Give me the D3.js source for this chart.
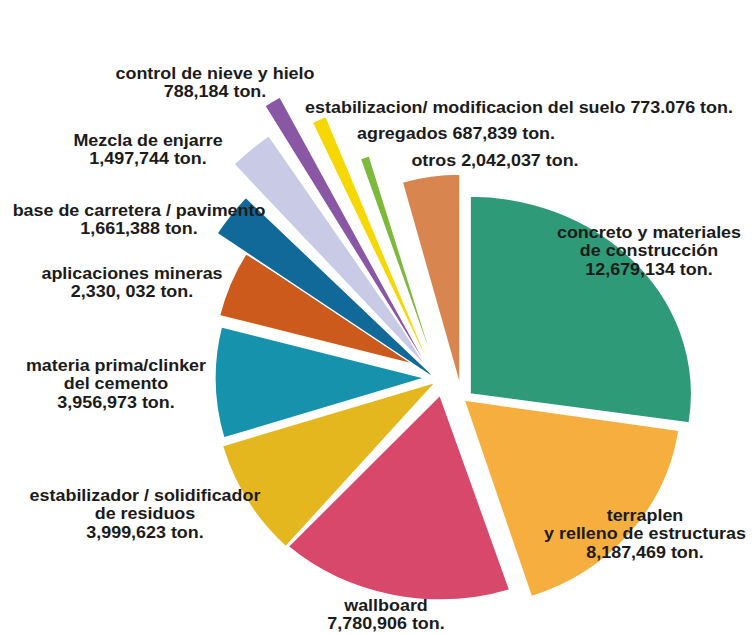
<!DOCTYPE html>
<html><head><meta charset="utf-8">
<script src="https://cdn.jsdelivr.net/npm/d3@7"></script>
<style>body{margin:0;background:#fff}svg{display:block}</style>
</head><body>
<svg id="chart" width="756" height="635"></svg>
<script>
// ---- data ----
const categories = [
  "concreto y materiales de construcción",
  "terraplen y relleno de estructuras",
  "wallboard",
  "estabilizador / solidificador de residuos",
  "materia prima/clinker del cemento",
  "aplicaciones mineras",
  "base de carretera / pavimento",
  "Mezcla de enjarre",
  "control de nieve y hielo",
  "estabilizacion/ modificacion del suelo",
  "agregados",
  "otros"
];
const values = [12679134, 8187469, 7780906, 3999623, 3956973, 2330032, 1661388, 1497744, 788184, 773076, 687839, 2042037];
const valueLabels = ["12,679,134 ton.", "8,187,469 ton.", "7,780,906 ton.", "3,999,623 ton.", "3,956,973 ton.", "2,330, 032 ton.", "1,661,388 ton.", "1,497,744 ton.", "788,184 ton.", "773.076 ton.", "687,839 ton.", "2,042,037 ton."];
const labelLines = [
  ["concreto y materiales", "de construcción"],
  ["terraplen", "y relleno de estructuras"],
  ["wallboard"],
  ["estabilizador / solidificador", "de residuos"],
  ["materia prima/clinker", "del cemento"],
  ["aplicaciones mineras"],
  ["base de carretera / pavimento"],
  ["Mezcla de enjarre"],
  ["control de nieve y hielo"],
  ["estabilizacion/ modificacion del suelo"],
  ["agregados"],
  ["otros"]
];
const valueInline = [false, false, false, false, false, false, false, false, false, true, true, true];

// ---- style / layout ----
const colors = ["#2f9a78", "#f6ae3f", "#d8486a", "#e5b71f", "#1692ad", "#cd5a1d", "#11699a", "#c9cbe6", "#8a57a4", "#f6d700", "#7db93b", "#d9854f"];
const pieCenter = [440, 382];
const sliceOffset = [[30, 12], [24, 18], [0, 13], [-4, 0], [-15, -4], [-12, -14], [0, 0], [0, 0], [-4, 0], [-3, 0], [0, 0], [20, 4]];
const sliceRadius = [198, 207, 205, 223, 210, 215, 268, 300, 325, 288, 237, 212];
const sliceStretchX = [1.12, 1.05, 1.1, 1, 1, 1, 1, 1, 1, 1, 1, 1];
const slicePadDeg = [0, 0, 0, 0, 0, 0, 3, 3, 3, 3, 3, 0];
const labelPos = [[649, 238], [645, 521], [386, 611], [145, 501], [116, 371], [132, 279], [139, 216], [148, 146], [215, 79], [519, 113], [456, 139], [495, 166]];
const fontSize = 16;
const textStretchX = 1.12;
const lineH = 18.4;

const svg = d3.select("#chart");
const pie = d3.pie().sort(null).value(d => d);
const arcs = pie(values);
const rad = Math.PI / 180;

const g = svg.append("g");
g.selectAll("path")
  .data(arcs)
  .join("path")
  .attr("transform", (d, i) => `translate(${pieCenter[0] + sliceOffset[i][0]},${pieCenter[1] + sliceOffset[i][1]}) scale(${sliceStretchX[i]},1)`)
  .attr("d", (d, i) => d3.arc()
      .innerRadius(0)
      .outerRadius(sliceRadius[i])
      .startAngle(d.startAngle + slicePadDeg[i] * rad / 2)
      .endAngle(d.endAngle - slicePadDeg[i] * rad / 2)())
  .attr("fill", (d, i) => colors[i])
  .attr("stroke", "#fff")
  .attr("stroke-width", 1.5)
  .attr("stroke-linejoin", "round");

const lg = svg.append("g")
  .attr("font-family", "'Liberation Sans', Arial, sans-serif")
  .attr("font-weight", "bold")
  .attr("font-size", fontSize)
  .attr("fill", "#1b1b1b")
  .attr("text-anchor", "middle");

categories.forEach((c, i) => {
  const lines = valueInline[i]
    ? [labelLines[i][0] + " " + valueLabels[i]]
    : labelLines[i].concat([valueLabels[i]]);
  const t = lg.append("text")
    .attr("transform", `translate(${labelPos[i][0]},${labelPos[i][1]}) scale(${textStretchX},1)`);
  lines.forEach((ln, k) => {
    t.append("tspan")
      .attr("x", 0)
      .attr("y", k * lineH)
      .text(ln);
  });
});
</script>
</body></html>
